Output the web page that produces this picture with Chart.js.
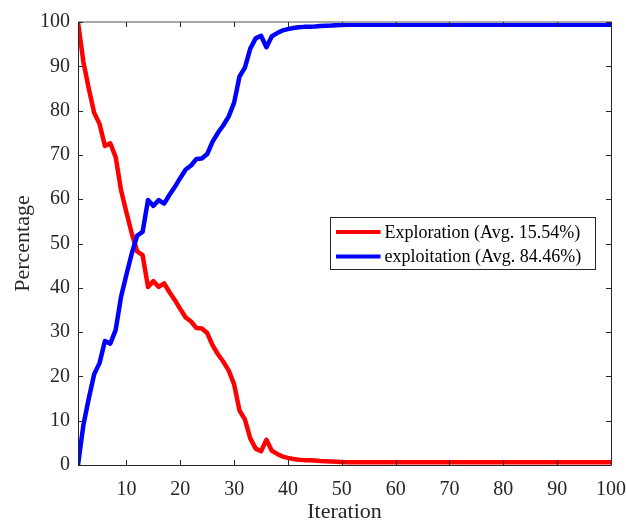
<!DOCTYPE html>
<html>
<head>
<meta charset="utf-8">
<script src="https://cdn.jsdelivr.net/npm/chart.js@4.4.1/dist/chart.umd.min.js"></script>
<style>
html,body{margin:0;padding:0;background:#fff;}
#wrap{width:626px;height:520px;position:relative;}
</style>
</head>
<body>
<div id="wrap"><canvas id="c" width="626" height="520"></canvas></div>
<script>
// ---- data ----
const exploration = [
  100, 91, 85, 79.5, 77, 72, 72.6, 69.5, 62, 57,
  52.2, 48.2, 47.4, 40.2, 41.5, 40.2, 41, 39, 37.2, 35.2,
  33.3, 32.4, 30.9, 30.8, 29.8, 27, 25, 23.3, 21.3, 18.2,
  12.3, 10.3, 6, 3.7, 3.1, 5.7, 3.2, 2.5, 1.9, 1.6,
  1.35, 1.2, 1.1, 1.05, 1.0, 0.9, 0.85, 0.8, 0.72, 0.65,
  0.6, 0.6, 0.6, 0.6, 0.6, 0.6, 0.6, 0.6, 0.6, 0.6,
  0.6, 0.6, 0.6, 0.6, 0.6, 0.6, 0.6, 0.6, 0.6, 0.6,
  0.6, 0.6, 0.6, 0.6, 0.6, 0.6, 0.6, 0.6, 0.6, 0.6,
  0.6, 0.6, 0.6, 0.6, 0.6, 0.6, 0.6, 0.6, 0.6, 0.6,
  0.6, 0.6, 0.6, 0.6, 0.6, 0.6, 0.6, 0.6, 0.6, 0.6
];
const exploitation = [
  0, 9, 15, 20.5, 23, 28, 27.4, 30.5, 38, 43,
  47.8, 51.8, 52.6, 59.8, 58.5, 59.8, 59, 61, 62.8, 64.8,
  66.7, 67.6, 69.1, 69.2, 70.2, 73, 75, 76.7, 78.7, 81.8,
  87.7, 89.7, 94, 96.3, 96.9, 94.3, 96.8, 97.5, 98.1, 98.4,
  98.65, 98.8, 98.9, 98.95, 99.0, 99.1, 99.15, 99.2, 99.28, 99.35,
  99.4, 99.4, 99.4, 99.4, 99.4, 99.4, 99.4, 99.4, 99.4, 99.4,
  99.4, 99.4, 99.4, 99.4, 99.4, 99.4, 99.4, 99.4, 99.4, 99.4,
  99.4, 99.4, 99.4, 99.4, 99.4, 99.4, 99.4, 99.4, 99.4, 99.4,
  99.4, 99.4, 99.4, 99.4, 99.4, 99.4, 99.4, 99.4, 99.4, 99.4,
  99.4, 99.4, 99.4, 99.4, 99.4, 99.4, 99.4, 99.4, 99.4, 99.4
];
const seriesLabels = ['Exploration (Avg. 15.54%)', 'exploitation (Avg. 84.46%)'];
const xTicks = [10, 20, 30, 40, 50, 60, 70, 80, 90, 100];
const yTicks = [0, 10, 20, 30, 40, 50, 60, 70, 80, 90, 100];
const xTitle = 'Iteration';
const yTitle = 'Percentage';

const iterations = exploration.map((_, i) => i + 1);
const FONT = "'Liberation Serif', 'Times New Roman', serif";
const AX = '#262626';

const boxPlugin = {
  id: 'matlabBox',
  afterDatasetsDraw(chart) {
    const {ctx, chartArea: a, scales} = chart;
    ctx.save();
    ctx.strokeStyle = AX;
    ctx.lineWidth = 1;
    ctx.beginPath();
    ctx.moveTo(a.left + 0.5, a.top);
    ctx.lineTo(a.left + 0.5, a.bottom + 0.5);
    ctx.lineTo(a.right + 0.5, a.bottom + 0.5);
    ctx.lineTo(a.right + 0.5, a.top);
    ctx.stroke();
    ctx.strokeStyle = '#a8a8a8';
    ctx.lineWidth = 2;
    ctx.beginPath();
    ctx.moveTo(a.left, a.top);
    ctx.lineTo(a.right + 1, a.top);
    ctx.stroke();
    ctx.strokeStyle = AX;
    ctx.lineWidth = 1;
    const tl = 5;
    ctx.beginPath();
    scales.x.ticks.forEach(t => {
      const px = Math.round(scales.x.getPixelForValue(t.value)) + 0.5;
      ctx.moveTo(px, a.bottom); ctx.lineTo(px, a.bottom - tl);
      ctx.moveTo(px, a.top); ctx.lineTo(px, a.top + tl);
    });
    scales.y.ticks.forEach(t => {
      const py = Math.round(scales.y.getPixelForValue(t.value)) + 0.5;
      ctx.moveTo(a.left, py); ctx.lineTo(a.left + tl, py);
      ctx.moveTo(a.right, py); ctx.lineTo(a.right - tl, py);
    });
    ctx.stroke();
    ctx.restore();
  },
  afterDraw(chart) {
    const {ctx, chartArea: a} = chart;
    ctx.save();
    const bx = a.right - 280.5, by = 217.5, bw = 265, bh = 52;
    ctx.fillStyle = '#fff';
    ctx.fillRect(bx, by, bw, bh);
    ctx.strokeStyle = AX;
    ctx.lineWidth = 1;
    ctx.strokeRect(bx, by, bw, bh);
    ctx.font = '18px ' + FONT;
    ctx.textBaseline = 'middle';
    ctx.textAlign = 'left';
    chart.data.datasets.forEach((ds, i) => {
      const y = by + 14.5 + i * 24.5;
      ctx.strokeStyle = ds.borderColor;
      ctx.lineWidth = 4;
      ctx.beginPath();
      ctx.moveTo(bx + 5.5, y);
      ctx.lineTo(bx + 50, y);
      ctx.stroke();
      ctx.fillStyle = '#000';
      ctx.fillText(ds.label, bx + 54, y + 1);
    });
    ctx.restore();
  }
};

new Chart(document.getElementById('c'), {
  type: 'line',
  data: {
    datasets: [
      {
        label: seriesLabels[0],
        data: iterations.map((x, i) => ({x, y: exploration[i]})),
        borderColor: '#ff0000',
        borderWidth: 4.5,
        pointRadius: 0,
        borderJoinStyle: 'round',
        borderCapStyle: 'round',
        fill: false,
        tension: 0,
        order: 1,
        clip: 0
      },
      {
        label: seriesLabels[1],
        data: iterations.map((x, i) => ({x, y: exploitation[i]})),
        borderColor: '#0000ff',
        borderWidth: 4.5,
        pointRadius: 0,
        borderJoinStyle: 'round',
        borderCapStyle: 'round',
        fill: false,
        tension: 0,
        order: 0,
        clip: 0
      }
    ]
  },
  options: {
    responsive: false,
    animation: false,
    events: [],
    layout: {autoPadding: false, padding: {top: 22, right: 15, left: 0, bottom: 0}},
    plugins: {legend: {display: false}, tooltip: {enabled: false}},
    scales: {
      x: {
        type: 'linear',
        min: 1, max: 100,
        grid: {display: false, drawTicks: false},
        border: {display: false},
        afterBuildTicks: s => { s.ticks = xTicks.map(v => ({value: v})); },
        afterFit: s => { s.height = 55; s.paddingLeft = 0; s.paddingRight = 0; },
        ticks: {color: AX, font: {family: FONT, size: 20}, padding: 13, maxRotation: 0, autoSkip: false},
        title: {display: true, text: xTitle, color: AX, font: {family: FONT, size: 22}, padding: {top: 0, bottom: -5}}
      },
      y: {
        type: 'linear',
        min: 0, max: 100,
        grid: {display: false, drawTicks: false},
        border: {display: false},
        afterBuildTicks: s => { s.ticks = yTicks.map(v => ({value: v})); },
        afterFit: s => { s.width = 78; s.paddingTop = 0; s.paddingBottom = 0; },
        ticks: {color: AX, font: {family: FONT, size: 20}, padding: 8, autoSkip: false},
        title: {display: true, text: yTitle, color: AX, font: {family: FONT, size: 22}, padding: {top: 10, bottom: 0}}
      }
    }
  },
  plugins: [boxPlugin]
});
</script>
</body>
</html>
